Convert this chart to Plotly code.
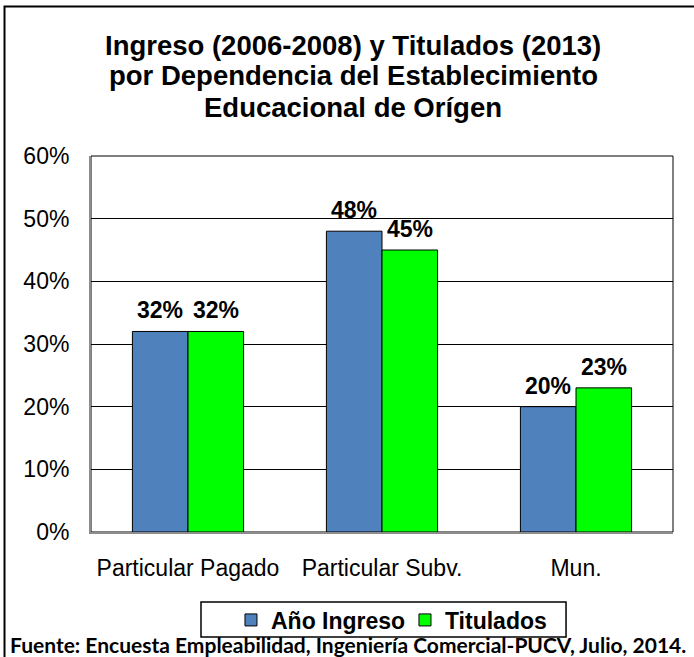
import plotly.graph_objects as go

# Datos
categorias = ["Particular Pagado", "Particular Subv.", "Mun."]
anio_ingreso = [0.32, 0.48, 0.20]
titulados = [0.32, 0.45, 0.23]
serie_nombres = ["Año Ingreso", "Titulados"]
colores = ["#4F81BD", "#00FF00"]
titulo_lineas = [
    "Ingreso (2006-2008) y Titulados (2013)",
    "por Dependencia del Establecimiento",
    "Educacional de Orígen",
]
fuente = "Fuente: Encuesta Empleabilidad, Ingeniería Comercial-PUCV, Julio, 2014."

ARIAL = "Liberation Sans, Arial"

fig = go.Figure()
for nombre, valores, color in zip(serie_nombres, [anio_ingreso, titulados], colores):
    fig.add_trace(go.Bar(
        x=categorias, y=valores, name=f"<b>{nombre}</b>",
        marker=dict(color=color, line=dict(color="black", width=1)),
    ))

# Etiquetas de valor sobre las barras
for desplazamiento, valores in zip([-27.75, 27.75], [anio_ingreso, titulados]):
    for cat, v in zip(categorias, valores):
        fig.add_annotation(
            x=cat, y=v, xshift=desplazamiento, yshift=6,
            text=f"<b>{v:.0%}</b>", showarrow=False, yanchor="bottom",
            font=dict(size=23, color="black", family=ARIAL),
        )

# Titulo en tres lineas
for linea, ypos in zip(titulo_lineas, [1.2952, 1.2128, 1.1303]):
    fig.add_annotation(
        xref="paper", yref="paper", x=0.451, y=ypos,
        text=f"<b>{linea}</b>", showarrow=False, xanchor="center", yanchor="middle",
        font=dict(size=27.5, color="black", family=ARIAL),
    )

fig.add_annotation(
    xref="paper", yref="paper", x=0.4424, y=-0.3005,
    text=f"<b>{fuente}</b>",
    showarrow=False, xanchor="center", yanchor="middle",
    font=dict(size=21, color="black", family="Lato, Open Sans"),
)

# Borde del área de trazado, marco exterior y caja de la leyenda
fig.add_shape(type="rect", xref="paper", yref="paper", x0=0, y0=0, x1=1, y1=1,
              line=dict(color="black", width=1), layer="below")
fig.add_shape(type="rect", xref="paper", yref="paper", x0=-0.1486, y0=-0.6, x1=1.3, y1=1.3976,
              line=dict(color="black", width=2), layer="below")
fig.add_shape(type="rect", xref="paper", yref="paper", x0=0.189, y0=-0.2793, x1=0.8162, y1=-0.1862,
              line=dict(color="black", width=1.5), layer="below")

fig.update_layout(
    width=694, height=657,
    margin=dict(l=91, r=21, t=156, b=125),
    paper_bgcolor="white", plot_bgcolor="white",
    barmode="group", bargap=0.427, bargroupgap=0,
    font=dict(family=ARIAL, color="black", size=23),
    legend=dict(
        orientation="h", x=0.2405, y=-0.234, xanchor="left", yanchor="middle",
        borderwidth=0, bgcolor="rgba(0,0,0,0)",
        font=dict(size=23, family=ARIAL),
        entrywidth=129,
    ),
    showlegend=True,
)

fig.update_yaxes(
    range=[0, 0.6], dtick=0.1, tickformat=".0%",
    showgrid=True, gridcolor="black", gridwidth=1,
    showline=True, linecolor="#8c8c8c", linewidth=2,
    zeroline=False, ticks="", ticklabelstandoff=15,
    tickfont=dict(size=23),
)
fig.update_xaxes(
    showline=True, linecolor="#8c8c8c", linewidth=2,
    ticks="", ticklabelstandoff=14, tickfont=dict(size=23),
)

fig.write_html("out.html", config={"displayModeBar": False},
               post_script="document.body.style.margin='0px';")
